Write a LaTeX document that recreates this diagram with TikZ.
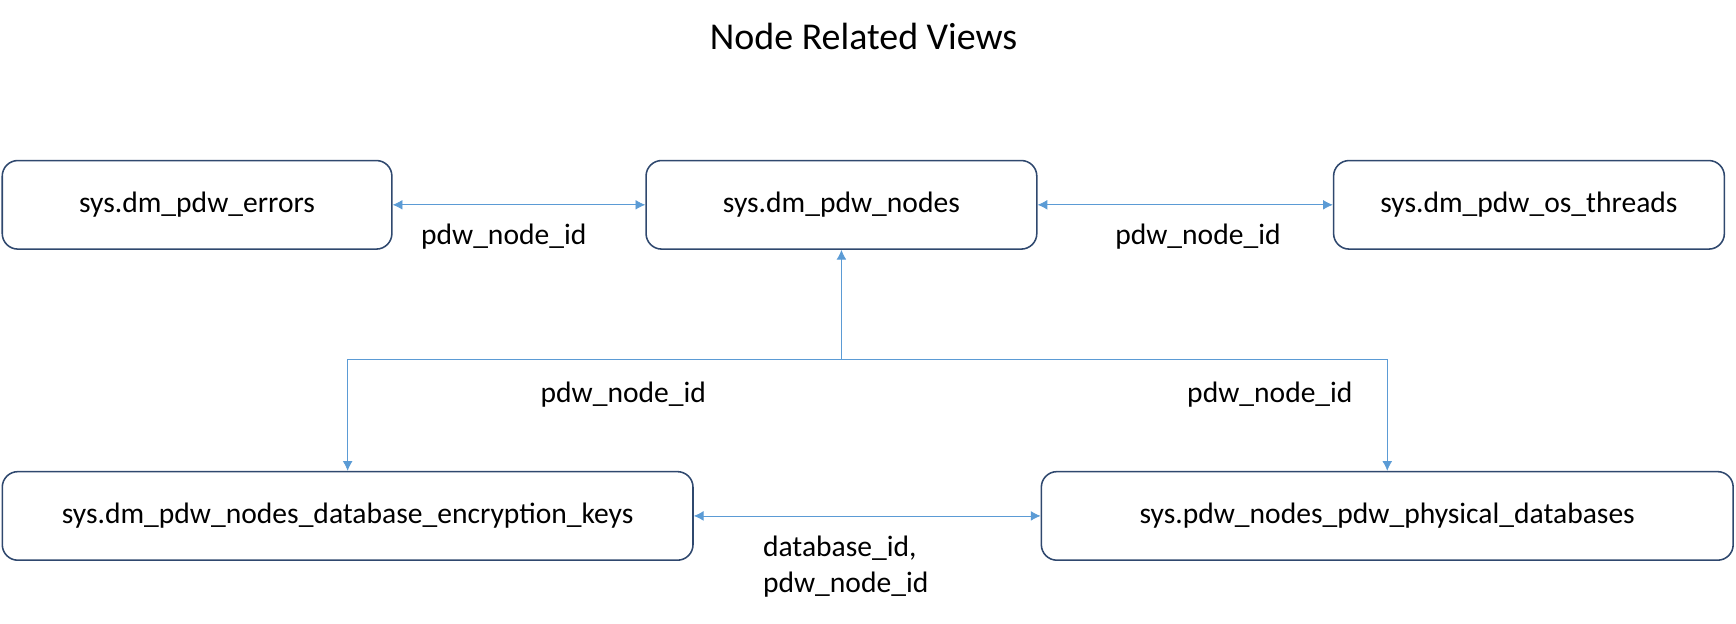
\documentclass[tikz,border=0pt]{standalone}
\usepackage{fontspec}
\setmainfont{Carlito}
\usetikzlibrary{arrows.meta}
\definecolor{linkblue}{RGB}{91,155,213}
\definecolor{boxline}{RGB}{47,72,110}
\tikzset{
  view/.style={draw=boxline, thick, rounded corners=8pt, minimum height=1.6cm, inner sep=0pt},
  link/.style={draw=linkblue, {Latex[length=5pt,width=5pt]}-{Latex[length=5pt,width=5pt]}},
  uplink/.style={draw=linkblue, -{Latex[length=5pt,width=5pt]}},
  lbl/.style={font=\fontsize{15.2}{18.5}\selectfont}
}
\begin{document}
\begin{tikzpicture}[x=0.02cm, y=-0.02cm, font=\fontsize{15.2}{18.5}\selectfont]
  \useasboundingbox (0,0) rectangle (1568,563);

  \node[font=\fontsize{19.5}{23}\selectfont] (title) at (780,33) {Node Related Views};

  % top row
  \node[view, minimum width=7.04cm] (errors) at (178,185) {sys.dm\_pdw\_errors};
  \node[view, minimum width=7.06cm] (nodes) at (760,185) {sys.dm\_pdw\_nodes};
  \node[view, minimum width=7.06cm] (threads) at (1381,185) {sys.dm\_pdw\_os\_threads};

  % bottom row
  \node[view, minimum width=12.48cm] (keys) at (314,466) {sys.dm\_pdw\_nodes\_database\_encryption\_keys};
  \node[view, minimum width=12.5cm] (physdb) at (1253,466) {sys.pdw\_nodes\_pdw\_physical\_databases};

  % links
  \draw[link] (errors) -- (nodes);
  \node at (455,214) {pdw\_node\_id};
  \draw[link] (nodes) -- (threads);
  \node at (1082,214) {pdw\_node\_id};
  \draw[link] (keys) -- (physdb);
  \node[lbl, align=left, anchor=north west] (dblbl) at (683,478) {database\_id,\\pdw\_node\_id};

  \coordinate (split) at (760,325);
  \draw[uplink] (split) -- (nodes.south);
  \draw[uplink] (split) -| (keys.north);
  \draw[uplink] (split) -| (physdb.north);
  \node at (563,356) {pdw\_node\_id};
  \node at (1147,356) {pdw\_node\_id};
\end{tikzpicture}
\end{document}
